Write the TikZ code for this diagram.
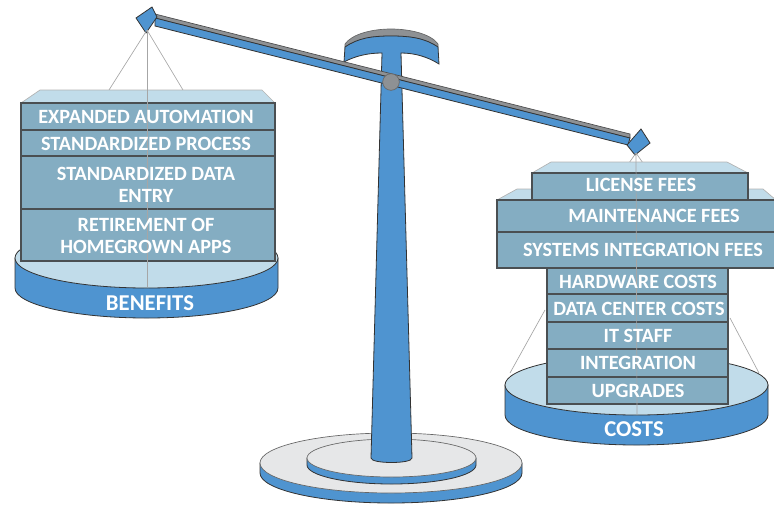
\documentclass[tikz,border=0pt]{standalone}
\usepackage{fontspec}
\setmainfont{Carlito}
\definecolor{panblue}{HTML}{4F94D0}
\definecolor{panlight}{HTML}{C1DCEA}
\definecolor{rowblue}{HTML}{84ADC2}
\definecolor{edgegray}{HTML}{4A4F52}
\definecolor{beamgray}{HTML}{8E9194}
\definecolor{basegray}{HTML}{E6E7E8}
\tikzset{
  rowbox/.style={fill=rowblue,draw=edgegray,line width=0.9pt},
  lidbox/.style={fill=panlight,draw=black!30,line width=0.5pt},
  cord/.style={draw=black!35,line width=0.5pt},
  solidblue/.style={fill=panblue,draw=black!80,line width=0.6pt},
  rowtext/.style={text=white,font=\fontsize{15.2}{16.5}\selectfont\bfseries,align=center,inner sep=0pt},
  pantext/.style={text=white,font=\fontsize{17}{19}\selectfont\bfseries,inner sep=0pt}
}
\begin{document}
\begin{tikzpicture}[x=0.75pt,y=-0.75pt]
\useasboundingbox (0,0) rectangle (774,504);
% base
\draw[solidblue] (260,463) -- (260,473) arc [start angle=180,end angle=0,x radius=131,y radius=30] -- (522,463) -- cycle;
\draw[fill=basegray,draw=black!60,line width=0.5pt] (391,463) ellipse [x radius=131,y radius=30];
\draw[solidblue] (307,458) -- (307,465) arc [start angle=180,end angle=0,x radius=84.5,y radius=19] -- (476,458) -- cycle;
\draw[fill=basegray,draw=black!60,line width=0.5pt] (391.5,458) ellipse [x radius=84.5,y radius=19];
% post with curved head
\draw[fill=beamgray,draw=black!60,line width=0.5pt] (345,44) .. controls (352,34) and (372,29) .. (391,29) .. controls (410,29) and (431,34) .. (438,44) -- (438,48) .. controls (425,38) and (410,36) .. (391,36) .. controls (372,36) and (358,38) .. (345,48) -- cycle;
\draw[solidblue] (345,47) .. controls (358,38) and (372,36) .. (391,36) .. controls (410,36) and (425,38) .. (438,47) -- (439,64) .. controls (428,57) and (415,53) .. (401,53) -- (412,458) .. controls (412,464) and (371,464) .. (371,458) -- (382,53) .. controls (368,53) and (355,56) .. (344,62) -- cycle;
% beam
\draw[fill=beamgray,draw=black!70,line width=0.5pt] (155,14) -- (630,134) -- (630,138) -- (155,18) -- cycle;
\draw[solidblue] (155,18) -- (630,138) -- (628,145) -- (155,26) -- cycle;
\draw[solidblue] (136,18) -- (152,7) -- (157,17) -- (146,33) -- cycle;
\draw[solidblue] (627,145) -- (641,129) -- (650,143) -- (635,155) -- cycle;
\node[circle,fill=beamgray,draw=black!60,line width=0.5pt,minimum size=12.5pt,inner sep=0pt] (pivot) at (391,82) {};
% left pan
\draw[solidblue] (15,258) -- (15,288) arc [start angle=180,end angle=0,x radius=131.5,y radius=30] -- (278,258) -- cycle;
\draw[fill=panlight,draw=black!80,line width=0.6pt] (146.5,258) ellipse [x radius=131.5,y radius=30];
\coordinate (lefthook) at (147,30);
\coordinate (leftcord1) at (109,90);
\coordinate (leftcord2) at (183,90);
\coordinate (leftcord3) at (147,287);
\draw[cord] (lefthook) -- (leftcord1);
\draw[cord] (lefthook) -- (leftcord2);
\draw[lidbox] (21,103) -- (40,90) -- (262,90) -- (275,103) -- cycle;
\draw[rowbox] (21,103) rectangle (275,130);
\draw[rowbox] (21,130) rectangle (275,156);
\draw[rowbox] (21,156) rectangle (275,209);
\draw[rowbox] (21,209) rectangle (275,261);
\draw[cord] (lefthook) -- (leftcord3);
\node[rowtext] (expanded) at (146,117) {EXPANDED AUTOMATION};
\node[rowtext] (process) at (146,144) {STANDARDIZED PROCESS};
\node[rowtext] (dataentry) at (146,185) {STANDARDIZED DATA\\ENTRY};
\node[rowtext] (retirement) at (146,236) {RETIREMENT OF\\HOMEGROWN APPS};
\node[pantext] (benefits) at (150,303) {BENEFITS};
% right pan
\draw[solidblue] (505,385) -- (505,415) arc [start angle=180,end angle=0,x radius=131.5,y radius=30] -- (768,385) -- cycle;
\draw[fill=panlight,draw=black!80,line width=0.6pt] (636.5,385) ellipse [x radius=131.5,y radius=30];
\coordinate (righthook) at (636,153);
\coordinate (rightcord1) at (622,173);
\coordinate (rightcord2) at (650,173);
\coordinate (rightcord3) at (637,415);
\draw[cord] (righthook) -- (rightcord1);
\draw[cord] (righthook) -- (rightcord2);
\draw[cord] (545,310) -- (510,373);
\draw[cord] (730,318) -- (759,373);
\draw[lidbox] (497,200) -- (517,189) -- (763,189) -- (776,200) -- cycle;
\draw[lidbox] (532,173) -- (551,162) -- (727,162) -- (748,173) -- cycle;
\draw[rowbox] (532,173) rectangle (748,200);
\draw[rowbox] (497,200) rectangle (778,232);
\draw[rowbox] (497,232) rectangle (778,268);
\draw[rowbox] (547,268) rectangle (728,294);
\draw[rowbox] (547,294) rectangle (728,322);
\draw[rowbox] (547,322) rectangle (728,349);
\draw[rowbox] (547,349) rectangle (728,377);
\draw[rowbox] (547,377) rectangle (728,404);
\draw[cord] (righthook) -- (rightcord3);
\node[rowtext] (license) at (641,185) {LICENSE FEES};
\node[rowtext] (maintenance) at (654,216) {MAINTENANCE FEES};
\node[rowtext] (integrationfees) at (643,250) {SYSTEMS INTEGRATION FEES};
\node[rowtext] (hardware) at (638,282) {HARDWARE COSTS};
\node[rowtext] (datacenter) at (639,309) {DATA CENTER COSTS};
\node[rowtext] (itstaff) at (638,336) {IT STAFF};
\node[rowtext] (integration) at (638,363) {INTEGRATION};
\node[rowtext] (upgrades) at (638,391) {UPGRADES};
\node[pantext] (costs) at (634,429) {COSTS};
\end{tikzpicture}
\end{document}
